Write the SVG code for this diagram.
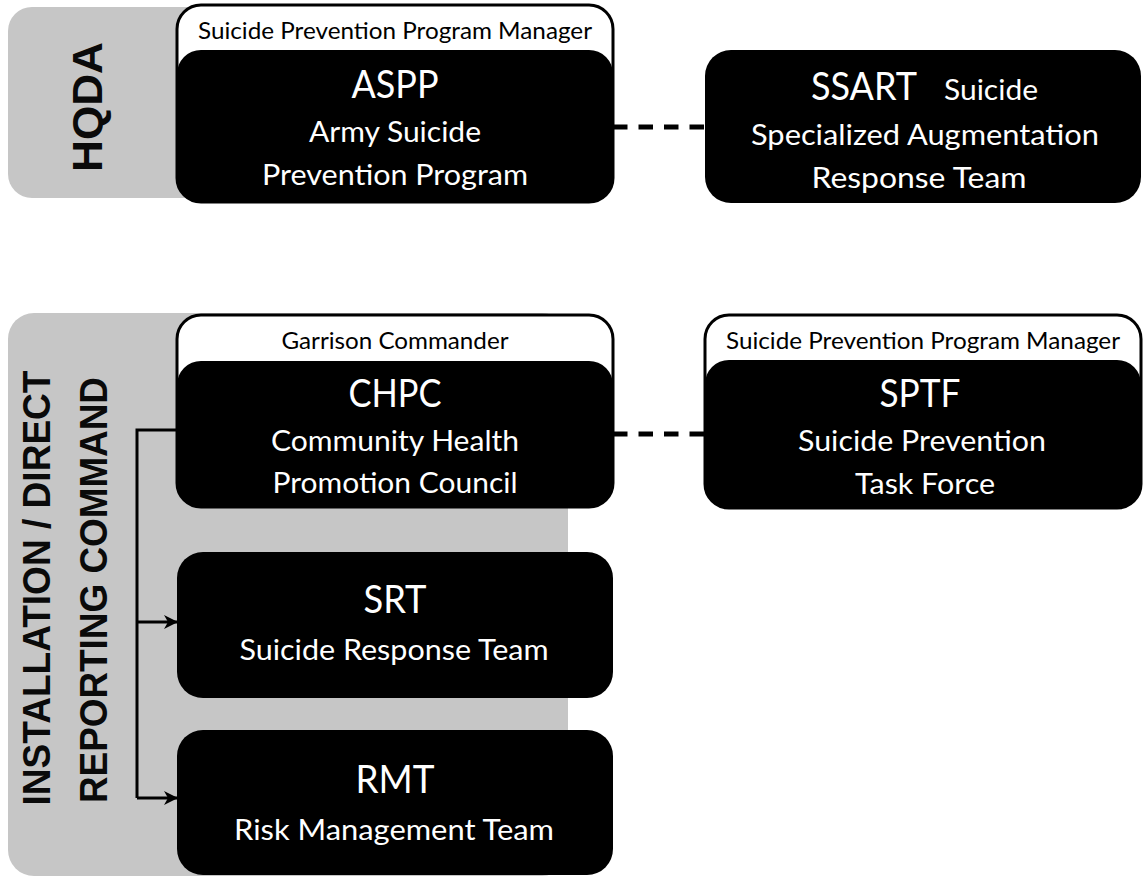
<svg xmlns="http://www.w3.org/2000/svg" width="1145" height="880" viewBox="0 0 1145 880">
  <defs>
    <style>
      .band { fill: #c6c6c6; }
      .outline { fill: #ffffff; stroke: #000000; stroke-width: 3; }
      .blk { fill: #000000; }
      .t { font-family: Lato, "Open Sans", "Liberation Sans", sans-serif; fill: #ffffff; text-anchor: middle; }
      .title { font-size: 38px; }
      .sub { font-size: 29px; }
      .tab { font-family: Lato, "Open Sans", "Liberation Sans", sans-serif; font-size: 23px; fill: #000000; text-anchor: middle; }
      .vert { font-family: "Liberation Sans", Arial, sans-serif; font-weight: bold; fill: #0a0a0a; text-anchor: middle; }
      .conn { fill: none; stroke: #000000; stroke-width: 3; }
      .dash { fill: none; stroke: #000000; stroke-width: 5; stroke-dasharray: 14.5 11; }
    </style>
    <marker id="arrow" markerUnits="userSpaceOnUse" markerWidth="14" markerHeight="14" refX="13" refY="7" orient="auto">
      <path d="M0,0 L14,7 L0,14 L4,7 z" fill="#000000"/>
    </marker>
  </defs>

  <!-- bands -->
  <g id="band-hqda">
    <rect class="band" x="8" y="7" width="300" height="191" rx="24"/>
    <text class="vert" font-size="42" textLength="130" lengthAdjust="spacingAndGlyphs" transform="translate(102,107) rotate(-90)">HQDA</text>
  </g>
  <g id="band-installation">
    <rect class="band" x="8" y="313" width="560" height="563" rx="26"/>
    <text class="vert" font-size="39" textLength="435" lengthAdjust="spacingAndGlyphs" transform="translate(50,588) rotate(-90)">INSTALLATION / DIRECT</text>
    <text class="vert" font-size="39" textLength="426" lengthAdjust="spacingAndGlyphs" transform="translate(107,590) rotate(-90)">REPORTING COMMAND</text>
  </g>

  <!-- connectors -->
  <g id="connectors">
    <line class="dash" x1="613" y1="127" x2="705" y2="127"/>
    <line class="dash" x1="613" y1="434" x2="705" y2="434"/>
    <path class="conn" d="M177,430 H137 V798"/>
    <path class="conn" d="M137,622 H177" marker-end="url(#arrow)"/>
    <path class="conn" d="M137,798 H177" marker-end="url(#arrow)"/>
  </g>

  <!-- ASPP -->
  <g id="node-aspp">
    <rect class="outline" x="177" y="5" width="436" height="197" rx="24"/>
    <rect class="blk" x="177" y="50" width="436" height="152" rx="24"/>
    <text class="tab" x="395" y="39" textLength="394" lengthAdjust="spacingAndGlyphs">Suicide Prevention Program Manager</text>
    <text class="t title" x="395" y="98" textLength="87" lengthAdjust="spacingAndGlyphs">ASPP</text>
    <text class="t sub" x="395" y="142" textLength="172" lengthAdjust="spacingAndGlyphs">Army Suicide</text>
    <text class="t sub" x="395" y="185" textLength="266" lengthAdjust="spacingAndGlyphs">Prevention Program</text>
  </g>

  <!-- SSART -->
  <g id="node-ssart">
    <rect class="blk" x="705" y="50" width="436" height="153" rx="26"/>
    <text class="t title" x="811" y="100" text-anchor="start" style="text-anchor:start" textLength="106" lengthAdjust="spacingAndGlyphs">SSART</text>
    <text class="t sub" x="944" y="100" style="text-anchor:start" textLength="94" lengthAdjust="spacingAndGlyphs">Suicide</text>
    <text class="t sub" x="925" y="145" textLength="348" lengthAdjust="spacingAndGlyphs">Specialized Augmentation</text>
    <text class="t sub" x="919" y="188" textLength="215" lengthAdjust="spacingAndGlyphs">Response Team</text>
  </g>

  <!-- CHPC -->
  <g id="node-chpc">
    <rect class="outline" x="177" y="315" width="436" height="192" rx="24"/>
    <rect class="blk" x="177" y="361" width="436" height="146" rx="24"/>
    <text class="tab" x="395" y="349" textLength="227" lengthAdjust="spacingAndGlyphs">Garrison Commander</text>
    <text class="t title" x="395" y="407" textLength="93" lengthAdjust="spacingAndGlyphs">CHPC</text>
    <text class="t sub" x="395" y="451" textLength="248" lengthAdjust="spacingAndGlyphs">Community Health</text>
    <text class="t sub" x="395" y="493" textLength="245" lengthAdjust="spacingAndGlyphs">Promotion Council</text>
  </g>

  <!-- SPTF -->
  <g id="node-sptf">
    <rect class="outline" x="705" y="315" width="436" height="193" rx="24"/>
    <rect class="blk" x="705" y="360" width="436" height="148" rx="24"/>
    <text class="tab" x="923" y="349" textLength="394" lengthAdjust="spacingAndGlyphs">Suicide Prevention Program Manager</text>
    <text class="t title" x="920" y="407" textLength="81" lengthAdjust="spacingAndGlyphs">SPTF</text>
    <text class="t sub" x="922" y="451" textLength="248" lengthAdjust="spacingAndGlyphs">Suicide Prevention</text>
    <text class="t sub" x="925" y="494" textLength="140" lengthAdjust="spacingAndGlyphs">Task Force</text>
  </g>

  <!-- SRT -->
  <g id="node-srt">
    <rect class="blk" x="177" y="552" width="436" height="146" rx="26"/>
    <text class="t title" x="395" y="613" textLength="63" lengthAdjust="spacingAndGlyphs">SRT</text>
    <text class="t sub" x="394" y="660" textLength="309" lengthAdjust="spacingAndGlyphs">Suicide Response Team</text>
  </g>

  <!-- RMT -->
  <g id="node-rmt">
    <rect class="blk" x="177" y="730" width="436" height="145" rx="26"/>
    <text class="t title" x="395" y="793" textLength="79" lengthAdjust="spacingAndGlyphs">RMT</text>
    <text class="t sub" x="394" y="840" textLength="320" lengthAdjust="spacingAndGlyphs">Risk Management Team</text>
  </g>
</svg>
